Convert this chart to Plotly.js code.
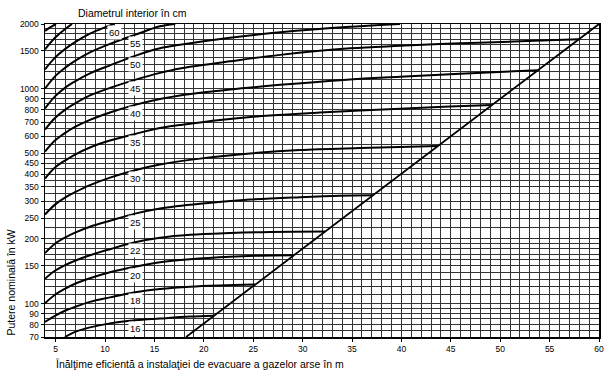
<!DOCTYPE html>
<html>
<head>
<meta charset="utf-8">
<script src="https://cdn.plot.ly/plotly-3.0.1.min.js"></script>
<style>html,body{margin:0;padding:0;background:#fff}#chart{width:612px;height:373px}</style>
</head>
<body>
<div id="chart"></div>
<script>
// Effective height (m) and nominal power (kW) for each inner diameter (cm)
var x16 = [5.94, 6.96, 8.47, 10.50, 13.03, 15.56, 18.60, 21.03];
var p16 = [70, 74, 77.6, 81, 83.7, 85.3, 87.1, 88];
var x18 = [3.92, 4.93, 5.94, 6.96, 8.47, 10.50, 13.03, 15.56, 18.60, 21.63, 25.18];
var p18 = [82.3, 87.8, 92.7, 96.7, 102, 107, 113, 117, 120, 121.6, 122.7];
var x20 = [3.92, 4.93, 5.94, 6.96, 8.47, 10.50, 13.03, 15.56, 18.60, 22.65, 25.68, 29.1];
var p20 = [100.5, 110, 117.3, 123.8, 131.3, 140, 148.6, 155.9, 161, 165.4, 167.2, 168];
var x22 = [3.92, 4.93, 5.94, 6.96, 8.47, 10.50, 13.03, 15.56, 18.60, 22.65, 26.70, 32.26];
var p22 = [130.6, 142.3, 151, 158.5, 168, 179.3, 193.2, 202.8, 209.4, 213.3, 215.6, 216.5];
var x25 = [3.92, 4.93, 5.94, 6.96, 8.47, 10.50, 13.03, 15.56, 19.61, 24.67, 29.73, 33.78, 37.12];
var p25 = [172, 190, 203, 214, 228, 243, 262.4, 277.4, 292, 305, 313, 318, 319.5];
var x30 = [3.92, 4.93, 5.94, 6.96, 8.47, 10.50, 13.03, 15.56, 19.61, 24.67, 29.73, 35.81, 39.86, 43.70];
var p30 = [260, 289, 311.5, 330, 356, 386, 418, 444, 473, 500, 519, 530, 536, 541];
var x35 = [3.92, 4.93, 5.94, 6.96, 8.47, 10.50, 13.03, 15.56, 17.59, 21.63, 26.70, 31.76, 39.86, 44.92, 49.17];
var p35 = [382, 430, 463, 494, 533, 574, 616, 657, 678, 716, 751, 775, 807, 827, 840];
var x40 = [3.92, 4.93, 5.94, 6.96, 8.47, 10.50, 13.03, 15.56, 17.59, 22.65, 27.71, 34.79, 39.86, 45.93, 53.82];
var p40 = [510, 574, 622, 664, 716, 775, 841, 896, 931, 992, 1042, 1105, 1137, 1175, 1218];
var x45 = [3.92, 4.93, 5.94, 6.96, 8.47, 10.50, 13.03, 15.56, 17.59, 22.65, 27.71, 34.79, 39.86, 45.93, 52.00, 57.97];
var p45 = [646, 731, 797, 854, 931, 1009, 1099, 1185, 1243, 1341, 1437, 1541, 1583, 1626, 1661, 1699];
var x50 = [3.92, 4.93, 5.94, 6.96, 8.47, 10.50, 13.03, 15.56, 17.59, 22.65, 27.71, 34.79, 39.86];
var p50 = [809, 921, 1009, 1081, 1178, 1284, 1422, 1541, 1600, 1725, 1829, 1941, 2000];
var x55 = [3.92, 4.93, 5.94, 6.96, 8.47, 10.50, 13.03, 15.56, 17.1];
var p55 = [1000, 1141, 1250, 1348, 1476, 1617, 1781, 1951, 2000];
var x60 = [3.92, 4.93, 5.94, 6.96, 8.47, 9.99, 10.9];
var p60 = [1230, 1395, 1528, 1647, 1804, 1930, 2000];
var x65 = [3.92, 4.93, 5.94, 6.65];
var p65 = [1525, 1725, 1890, 2000];
var x70 = [3.92, 4.43, 5.03];
var p70 = [1855, 1930, 2000];

// Limit line
var limitX = [18.2, 60];
var limitP = [70, 2000];

// Curve labels (diameter in cm) and where along the height axis they sit
var diameters = ['16', '18', '20', '22', '25', '30', '35', '40', '45', '50', '55', '60', '65', '70'];
var labelAt   = [13.03, 13.03, 13.03, 13.03, 13.03, 13.03, 13.03, 13.03, 13.03, 13.03, 13.03, 11.0, null, null];

// Axis ticks
var xTicks = [5, 10, 15, 20, 25, 30, 35, 40, 45, 50, 55, 60];
var yTicks = [70, 80, 90, 100, 150, 200, 250, 300, 350, 400, 450, 500, 600, 700, 800, 900, 1000, 1500, 2000];
var yGrid  = [75, 85, 95, 110, 120, 130, 140, 160, 170, 180, 190, 225, 275, 325, 375, 425, 475,
              550, 650, 750, 850, 950, 1100, 1200, 1300, 1400, 1600, 1700, 1800, 1900];

var xs = [x16, x18, x20, x22, x25, x30, x35, x40, x45, x50, x55, x60, x65, x70];
var ps = [p16, p18, p20, p22, p25, p30, p35, p40, p45, p50, p55, p60, p65, p70];

var traces = [];
for (var i = 0; i < xs.length; i++) {
  traces.push({
    x: xs[i], y: ps[i], type: 'scatter', mode: 'lines', name: diameters[i] + ' cm',
    line: {color: '#000', width: 2, shape: 'spline', smoothing: 1},
    hoverinfo: 'x+y+name'
  });
}
traces.push({
  x: limitX, y: limitP, type: 'scatter', mode: 'lines', name: 'limit',
  line: {color: '#000', width: 1.8}
});

function interpLog(xa, pa, xv) {
  if (xv >= xa[xa.length - 1]) return pa[pa.length - 1];
  for (var k = 0; k < xa.length - 1; k++) {
    if (xv >= xa[k] && xv <= xa[k + 1]) {
      var t = (xv - xa[k]) / (xa[k + 1] - xa[k]);
      return Math.pow(10, Math.log10(pa[k]) + t * (Math.log10(pa[k + 1]) - Math.log10(pa[k])));
    }
  }
  return pa[0];
}

var font = 'Liberation Sans, Arial, Helvetica, sans-serif';
var annotations = [];
for (var j = 0; j < diameters.length; j++) {
  if (labelAt[j] === null) continue;
  annotations.push({
    x: labelAt[j], y: Math.log10(interpLog(xs[j], ps[j], labelAt[j])),
    xref: 'x', yref: 'y', text: diameters[j], showarrow: false,
    yshift: -8.5, bgcolor: '#fff', borderpad: 1,
    font: {family: font, size: 9.5, color: '#000'}
  });
}
annotations.push({
  x: 0.056, y: 1.035, xref: 'paper', yref: 'paper', xanchor: 'left', yanchor: 'middle',
  text: 'Diametrul interior în cm', showarrow: false,
  font: {family: font, size: 10.5, color: '#000'}
});
annotations.push({
  x: 0.0144, y: -0.086, xref: 'paper', yref: 'paper', xanchor: 'left', yanchor: 'middle',
  text: 'Înălţime eficientă a instalaţiei de evacuare a gazelor arse în m', showarrow: false,
  font: {family: font, size: 10.5, color: '#000'}
});
annotations.push({
  x: -0.0605, y: 0, xref: 'paper', yref: 'paper', xanchor: 'center', yanchor: 'bottom',
  text: 'Putere nominală în kW', showarrow: false, textangle: -90,
  font: {family: font, size: 10.5, color: '#000'}
});

var gridC = '#333333';
var layout = {
  width: 612, height: 373,
  margin: {l: 45, r: 13, t: 24, b: 36, pad: 0},
  paper_bgcolor: '#fff', plot_bgcolor: '#fff',
  showlegend: false,
  font: {family: font, size: 8.5, color: '#000'},
  xaxis: {
    range: [3.92, 60], tickmode: 'array', tickvals: xTicks,
    ticks: 'outside', ticklen: 3, tickcolor: '#000',
    showgrid: true, gridcolor: gridC, gridwidth: 1,
    minor: {dtick: 1, tick0: 0, showgrid: true, gridcolor: gridC, gridwidth: 1, ticks: ''},
    showline: true, linecolor: '#000', linewidth: 1.5, mirror: true, zeroline: false,
    tickfont: {family: font, size: 8.5, color: '#000'}
  },
  yaxis: {
    type: 'log', range: [Math.log10(70), Math.log10(2000)],
    tickmode: 'array', tickvals: yTicks, ticktext: yTicks.map(String),
    ticks: 'outside', ticklen: 3, tickcolor: '#000',
    showgrid: true, gridcolor: gridC, gridwidth: 1,
    minor: {tickmode: 'array', tickvals: yGrid, showgrid: true, gridcolor: gridC, gridwidth: 1, ticks: ''},
    showline: true, linecolor: '#000', linewidth: 1.5, mirror: true, zeroline: false,
    tickfont: {family: font, size: 8.5, color: '#000'}
  },
  annotations: annotations
};

Plotly.newPlot('chart', traces, layout, {staticPlot: true, displayModeBar: false});
</script>
</body>
</html>
